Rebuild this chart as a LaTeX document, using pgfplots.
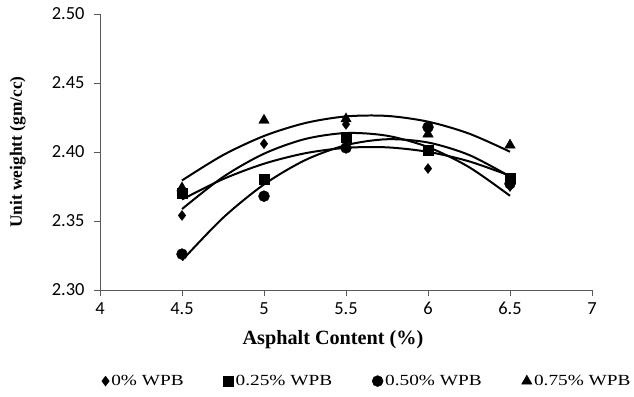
\documentclass[border=0pt]{standalone}
\usepackage{fontspec}
\setmainfont{Liberation Serif}
\newfontfamily\tickfont{Carlito}
\usepackage{graphicx}
\usepackage{pgfplots}
\pgfplotsset{compat=1.18}
\newcommand{\legtxt}[1]{\scalebox{1.25}[1]{#1}}
\begin{document}
\begin{tikzpicture}[x=1bp,y=1bp]
\path[use as bounding box] (-100,-106) rectangle (534,290);
\begin{axis}[
  at={(0,0)}, anchor=south west,
  scale only axis, width=492bp, height=276bp,
  xmin=4, xmax=7, ymin=2.30, ymax=2.50,
  xtick={4,4.5,5,5.5,6,6.5,7},
  xticklabels={4,4.5,5,5.5,6,6.5,7},
  ytick={2.30,2.35,2.40,2.45,2.50},
  yticklabels={2.30,2.35,2.40,2.45,2.50},
  axis lines=left,
  axis line style={gray!70!black,-},
  tick style={gray!70!black, line width=0.6pt},
  tick align=outside,
  major tick length=6bp,
  ticklabel style={font=\tickfont\fontsize{18.5}{20}\selectfont},
  yticklabel style={xshift=-6bp},
  xticklabel style={yshift=-3bp},
  xlabel={\textbf{Asphalt Content (\%)}},
  ylabel={\textbf{Unit weightt (gm/cc)}},
  xlabel style={font=\fontsize{20.3}{22}\selectfont, at={(axis description cs:0.4736,-0.181)}, anchor=center},
  ylabel style={font=\fontsize{17.4}{19}\selectfont, at={(axis description cs:-0.167,0.5)}, anchor=center},
  legend columns=4,
  legend image code/.code={\draw[mark repeat=2,mark phase=2,#1] plot coordinates {(0cm,0cm)(0.15cm,0cm)(0.3cm,0cm)};},
  legend style={draw=none, at={(axis description cs:0.543,-0.33)}, anchor=center,
    font=\fontsize{15.5}{17}\selectfont,
    /tikz/every even column/.append style={column sep=38bp}},
  legend cell align=left,
]
% trend lines (quadratic fits)
\addplot[black, line width=2pt, smooth, forget plot] coordinates {
(4.5,2.35866)(4.75,2.38186)(5,2.39877)(5.25,2.4094)(5.5,2.41374)(5.75,2.4118)(6,2.40357)(6.25,2.38906)(6.5,2.36826)};
\addplot[black, line width=2pt, smooth, forget plot] coordinates {
(4.5,2.36557)(4.75,2.38035)(5,2.39151)(5.25,2.39908)(5.5,2.40303)(5.75,2.40338)(6,2.40011)(6.25,2.39325)(6.5,2.38277)};
\addplot[black, line width=2pt, smooth, forget plot] coordinates {
(4.5,2.32143)(4.75,2.35228)(5,2.37649)(5.25,2.39405)(5.5,2.40497)(5.75,2.40925)(6,2.40689)(6.25,2.39788)(6.5,2.38223)};
\addplot[black, line width=2pt, smooth, forget plot] coordinates {
(4.5,2.3794)(4.75,2.39775)(5,2.4116)(5.25,2.42095)(5.5,2.4258)(5.75,2.42615)(6,2.422)(6.25,2.41335)(6.5,2.4002)};
% data
\addplot[only marks, mark=diamond*, mark size=5bp, black] coordinates {
(4.5,2.354)(5,2.406)(5.5,2.420)(6,2.388)(6.5,2.375)};
\addplot[only marks, mark=square*, mark size=5bp, black] coordinates {
(4.5,2.370)(5,2.380)(5.5,2.411)(6,2.401)(6.5,2.381)};
\addplot[only marks, mark=*, mark size=5.5bp, black] coordinates {
(4.5,2.326)(5,2.368)(5.5,2.403)(6,2.418)(6.5,2.377)};
\addplot[only marks, mark=triangle*, mark size=6bp, black] coordinates {
(4.5,2.374)(5,2.423)(5.5,2.424)(6,2.413)(6.5,2.405)};
\legend{\legtxt{0\% WPB}, \legtxt{0.25\% WPB}, \legtxt{0.50\% WPB}, \legtxt{0.75\% WPB}}
\end{axis}
\end{tikzpicture}
\end{document}
